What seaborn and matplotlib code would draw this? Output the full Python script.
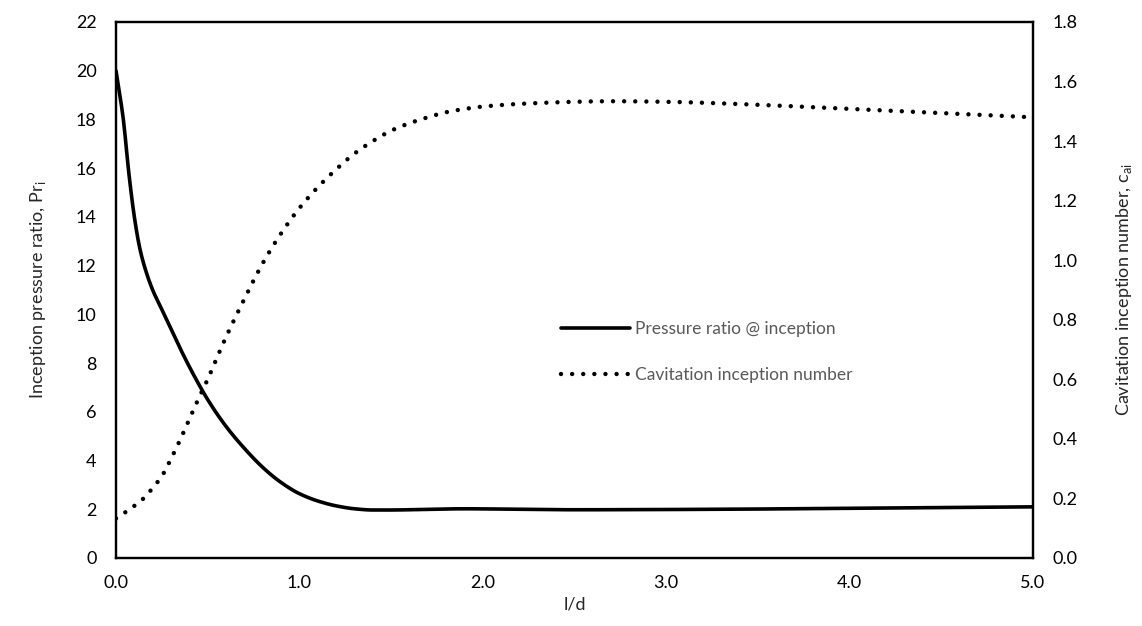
import matplotlib
matplotlib.use("Agg")
import matplotlib.pyplot as plt
import seaborn as sns
import pandas as pd
import numpy as np

# Pressure ratio @ inception (left axis)
x_pr = [0.0, 0.04, 0.07, 0.1, 0.13, 0.16, 0.2, 0.25, 0.3, 0.35, 0.4, 0.45, 0.5,
        0.6, 0.7, 0.8, 0.9, 1.0, 1.1, 1.2, 1.3, 1.4, 1.5, 1.7, 1.9, 2.2, 2.5,
        3.0, 3.5, 4.0, 4.5, 5.0]
pr_vals = [20.0, 18.0, 15.8, 14.0, 12.7, 11.85, 11.0, 10.2, 9.4, 8.6, 7.85, 7.15, 6.5,
           5.4, 4.5, 3.72, 3.1, 2.64, 2.34, 2.14, 2.02, 1.97, 1.97, 2.0, 2.02, 2.0, 1.98,
           1.99, 2.01, 2.04, 2.07, 2.1]

# Cavitation inception number (right axis)
x_ca = [0.0, 0.05, 0.1, 0.15, 0.2, 0.25, 0.3, 0.35, 0.4, 0.45, 0.5, 0.55, 0.6,
        0.7, 0.8, 0.9, 1.0, 1.1, 1.2, 1.3, 1.4, 1.5, 1.6, 1.7, 1.8, 1.9, 2.0,
        2.2, 2.5, 2.7, 3.0, 3.5, 4.0, 4.5, 5.0]
ca_vals = [0.133, 0.153, 0.175, 0.2, 0.235, 0.275, 0.333, 0.397, 0.467, 0.535, 0.6, 0.672, 0.742,
           0.87, 0.99, 1.09, 1.175, 1.245, 1.305, 1.358, 1.40, 1.435, 1.46, 1.48, 1.497, 1.508, 1.516,
           1.525, 1.532, 1.534, 1.532, 1.522, 1.508, 1.494, 1.48]

x_ticks = [0.0, 1.0, 2.0, 3.0, 4.0, 5.0]
left_ticks = list(range(0, 23, 2))
right_ticks = [0.0, 0.2, 0.4, 0.6, 0.8, 1.0, 1.2, 1.4, 1.6, 1.8]

sns.set_theme(style="white")
plt.rcParams['font.family'] = ['Lato', 'DejaVu Sans']
plt.rcParams['mathtext.fontset'] = 'custom'
plt.rcParams['mathtext.rm'] = 'Lato'

fig = plt.figure(figsize=(11.42, 6.26), dpi=100)
ax = fig.add_axes([116/1142, 1-558/626, (1033-116)/1142, (558-22)/626])
ax2 = ax.twinx()


def smooth(xs, ys, n=500):
    """Monotone cubic (PCHIP-style) interpolation through the read points."""
    xs = np.asarray(xs, float); ys = np.asarray(ys, float)
    xx = np.linspace(xs.min(), xs.max(), n)
    h = np.diff(xs); d = np.diff(ys) / h
    m = np.zeros_like(ys)
    m[0] = d[0]; m[-1] = d[-1]
    for i in range(1, len(xs) - 1):
        if d[i-1] * d[i] <= 0:
            m[i] = 0
        else:
            w1 = 2*h[i] + h[i-1]; w2 = h[i] + 2*h[i-1]
            m[i] = (w1 + w2) / (w1/d[i-1] + w2/d[i])
    idx = np.clip(np.searchsorted(xs, xx) - 1, 0, len(xs) - 2)
    t = (xx - xs[idx]) / h[idx]
    h00 = 2*t**3 - 3*t**2 + 1; h10 = t**3 - 2*t**2 + t
    h01 = -2*t**3 + 3*t**2; h11 = t**3 - t**2
    yy = h00*ys[idx] + h10*h[idx]*m[idx] + h01*ys[idx+1] + h11*h[idx]*m[idx+1]
    return xx, yy


xs1, ys1 = smooth(x_pr, pr_vals)
xs2, ys2 = smooth(x_ca, ca_vals)
df1 = pd.DataFrame({"l/d": xs1, "Pr": ys1})
df2 = pd.DataFrame({"l/d": xs2, "ca": ys2})

sns.lineplot(data=df1, x="l/d", y="Pr", ax=ax, color="black", linewidth=2.6,
             label="Pressure ratio @ inception", legend=False)
sns.lineplot(data=df2, x="l/d", y="ca", ax=ax2, color="black", linewidth=3.2,
             linestyle=(0, (0.001, 2.5)),
             label="Cavitation inception number", legend=False)
for ln in ax2.get_lines():
    ln.set_dash_capstyle("round")

ax.set_xlim(0, 5)
ax.set_ylim(0, 22)
ax2.set_ylim(0, 1.8)
ax.set_xticks(x_ticks)
ax.set_xticklabels([f"{v:.1f}" for v in x_ticks])
ax.set_yticks(left_ticks)
ax.set_yticklabels([str(v) for v in left_ticks])
ax2.set_yticks(right_ticks)
ax2.set_yticklabels([f"{v:.1f}" for v in right_ticks])

for a in (ax, ax2):
    a.tick_params(length=0, labelsize=13, colors="black", pad=14)
    for s in a.spines.values():
        s.set_color("black")
        s.set_linewidth(1.6)
ax.tick_params(axis="x", pad=12)

ax.set_xlabel("l/d", fontsize=13, color="#262626", labelpad=4)
ax.set_ylabel(r"Inception pressure ratio, Pr$_{\mathregular{i}}$", fontsize=13,
              color="#262626", labelpad=20)
ax2.set_ylabel(r"Cavitation inception number, c$_{\mathregular{ai}}$", fontsize=13,
               color="#262626", labelpad=26)

h1, l1 = ax.get_legend_handles_labels()
h2, l2 = ax2.get_legend_handles_labels()
leg = ax2.legend(h1 + h2, l1 + l2, loc="upper left", bbox_to_anchor=(0.468, 0.472),
                 frameon=False, fontsize=12.5, handlelength=4.0, handletextpad=0.3,
                 labelspacing=1.75, labelcolor="#595959")

fig.savefig("out.png", dpi=100)
